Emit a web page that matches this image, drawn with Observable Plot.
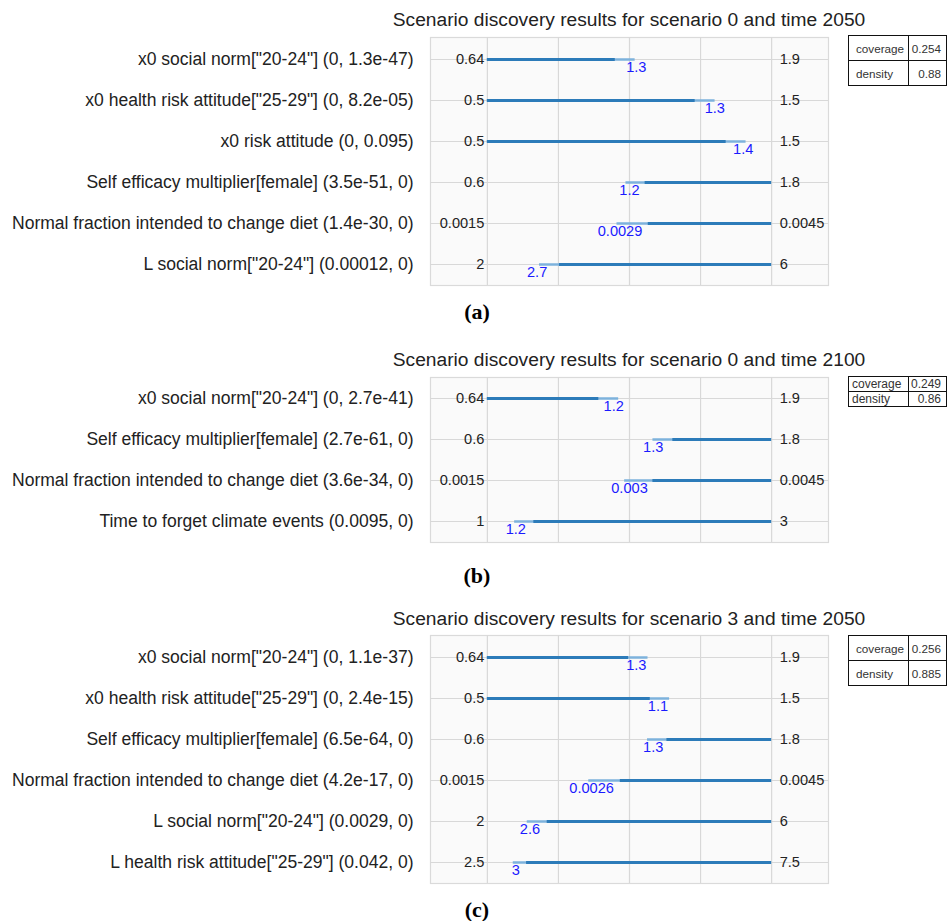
<!DOCTYPE html>
<html>
<head>
<meta charset="utf-8">
<script src="https://cdn.jsdelivr.net/npm/d3@7"></script>
<script src="https://cdn.jsdelivr.net/npm/@observablehq/plot@0.6"></script>
<style>
  html, body { margin: 0; padding: 0; background: #fff; }
  #root { position: relative; width: 947px; height: 921px; overflow: hidden; font-family: "Liberation Sans", Arial, sans-serif; color: #222; }
  .title { position: absolute; width: 600px; text-align: center; font-size: 19.2px; line-height: 1; white-space: nowrap; }
  .cap { position: absolute; width: 100px; text-align: center; font-family: "Liberation Serif", "Times New Roman", serif; font-weight: bold; font-size: 22px; line-height: 1; color: #000; }
  .svgbox { position: absolute; left: 0; }
  table.stats { position: absolute; left: 848px; border-collapse: collapse; color: #333; }
  table.stats td { border: 1px solid #111; padding: 0; white-space: nowrap; }
  table.stats td.k { text-align: left; }
  table.stats td.v { text-align: right; }
</style>
</head>
<body>
<div id="root"></div>
<script>
// ---------- data ----------
// Panel (a): scenario 0, time 2050
const aTitle = "Scenario discovery results for scenario 0 and time 2050";
const aLabels = [
  'x0 social norm["20-24"] (0, 1.3e-47)',
  'x0 health risk attitude["25-29"] (0, 8.2e-05)',
  'x0 risk attitude (0, 0.095)',
  'Self efficacy multiplier[female] (3.5e-51, 0)',
  'Normal fraction intended to change diet (1.4e-30, 0)',
  'L social norm["20-24"] (0.00012, 0)'
];
const aMin = [0.64, 0.5, 0.5, 0.6, 0.0015, 2];
const aMax = [1.9, 1.5, 1.5, 1.8, 0.0045, 6];
const aLimit = [1.3, 1.3, 1.4, 1.2, 0.0029, 2.7];      // labelled box limit
const aEdge = [1.295, 1.301, 1.41, 1.185, 0.002868, 2.734]; // box limit (end of light part)
const aInner = [1.207, 1.231, 1.34, 1.266, 0.003198, 3.015]; // light/dark transition
const aCoverage = "0.254", aDensity = "0.88";

// Panel (b): scenario 0, time 2100
const bTitle = "Scenario discovery results for scenario 0 and time 2100";
const bLabels = [
  'x0 social norm["20-24"] (0, 2.7e-41)',
  'Self efficacy multiplier[female] (2.7e-61, 0)',
  'Normal fraction intended to change diet (3.6e-34, 0)',
  'Time to forget climate events (0.0095, 0)'
];
const bMin = [0.64, 0.6, 0.0015, 1];
const bMax = [1.9, 1.8, 0.0045, 3];
const bLimit = [1.2, 1.3, 0.003, 1.2];
const bEdge = [1.222, 1.299, 0.002949, 1.192];
const bInner = [1.134, 1.383, 0.003247, 1.327];
const bCoverage = "0.249", bDensity = "0.86";

// Panel (c): scenario 3, time 2050
const cTitle = "Scenario discovery results for scenario 3 and time 2050";
const cLabels = [
  'x0 social norm["20-24"] (0, 1.1e-37)',
  'x0 health risk attitude["25-29"] (0, 2.4e-15)',
  'Self efficacy multiplier[female] (6.5e-64, 0)',
  'Normal fraction intended to change diet (4.2e-17, 0)',
  'L social norm["20-24"] (0.0029, 0)',
  'L health risk attitude["25-29"] (0.042, 0)'
];
const cMin = [0.64, 0.5, 0.6, 0.0015, 2, 2.5];
const cMax = [1.9, 1.5, 1.8, 0.0045, 6, 7.5];
const cLimit = [1.3, 1.1, 1.3, 0.0026, 2.6, 3];
const cEdge = [1.352, 1.141, 1.276, 0.00257, 2.561, 2.956];
const cInner = [1.266, 1.073, 1.358, 0.002903, 2.842, 3.19];
const cCoverage = "0.256", cDensity = "0.885";

const gridTicks = [0, 0.25, 0.5, 0.75, 1];
const captions = ["(a)", "(b)", "(c)"];

// ---------- drawing ----------
const FONT = '"Liberation Sans", Arial, sans-serif';
const DARK = "#2c7bb9";
const LIGHT = "#7db2dc";
const root = document.getElementById("root");

function buildRows(labels, mins, maxs, limits, edges, inners) {
  return labels.map((label, i) => {
    const norm = v => (v - mins[i]) / (maxs[i] - mins[i]);
    const upper = inners[i] < edges[i];
    const e = norm(edges[i]), n = norm(inners[i]);
    return {
      label, min: mins[i], max: maxs[i], limit: limits[i],
      lx: norm(limits[i]),
      lo: upper ? 0 : e, hi: upper ? e : 1,
      dlo: upper ? 0 : n, dhi: upper ? n : 1
    };
  });
}

function place(el, left, top) {
  el.style.left = left + "px";
  el.style.top = top + "px";
  root.appendChild(el);
}

function panel(cfg) {
  const rows = buildRows(cfg.labels, cfg.min, cfg.max, cfg.limit, cfg.edge, cfg.inner);
  const plotH = cfg.plotH;
  const chart = Plot.plot({
    width: 947,
    height: plotH + 20,
    marginLeft: 430,
    marginRight: 119,
    marginTop: 10,
    marginBottom: 10,
    x: {domain: [-0.2, 1.2], axis: null},
    y: {type: "point", domain: cfg.labels, padding: 0.5, axis: null},
    style: {fontFamily: FONT, color: "#222", background: "transparent", overflow: "visible"},
    marks: [
      Plot.frame({fill: "#fafafa", stroke: "#dadada", strokeWidth: 1.2}),
      Plot.gridX(gridTicks, {stroke: "#d8d8d8", strokeOpacity: 1, strokeWidth: 1.2}),
      Plot.gridY({stroke: "#d8d8d8", strokeOpacity: 1, strokeWidth: 1.2}),
      Plot.axisY({tickSize: 0, tickPadding: 17, fontSize: "17.55px", label: null, fill: "#222"}),
      Plot.ruleY(rows, {y: "label", x1: "lo", x2: "hi", stroke: LIGHT, strokeWidth: 2.5}),
      Plot.ruleY(rows, {y: "label", x1: "dlo", x2: "dhi", stroke: DARK, strokeWidth: 3}),
      Plot.text(rows, {x: () => 0, y: "label", text: d => String(d.min), textAnchor: "end", lineAnchor: "middle", dx: -3, fontSize: "14.6px", fill: "#222"}),
      Plot.text(rows, {x: () => 1, y: "label", text: d => String(d.max), textAnchor: "start", lineAnchor: "middle", dx: 8, fontSize: "14.6px", fill: "#222"}),
      Plot.text(rows, {x: "lx", y: "label", text: d => String(d.limit), textAnchor: "middle", lineAnchor: "top", dy: 2, fontSize: "14.6px", fill: "#1a1aff"})
    ]
  });
  const box = document.createElement("div");
  box.className = "svgbox";
  box.appendChild(chart);
  place(box, 0, cfg.plotTop - 10);

  const t = document.createElement("div");
  t.className = "title";
  t.textContent = cfg.title;
  place(t, 629 - 300, cfg.titleY - 10);

  const tbl = document.createElement("table");
  tbl.className = "stats";
  tbl.style.fontSize = cfg.tFont + "px";
  const mk = (k, v) => `<tr style="height:${cfg.rowH}px"><td class="k" style="padding-left:${cfg.padL}px;width:${60 - cfg.padL}px">${k}</td><td class="v" style="padding-right:${cfg.padR}px;width:${38 - cfg.padR}px">${v}</td></tr>`;
  tbl.innerHTML = mk("coverage", cfg.coverage) + mk("density", cfg.density);
  place(tbl, 848, cfg.tableTop);

  const c = document.createElement("div");
  c.className = "cap";
  c.textContent = cfg.caption;
  place(c, 477 - 50, cfg.capY - 11);
}

panel({title: aTitle, labels: aLabels, min: aMin, max: aMax, limit: aLimit, edge: aEdge, inner: aInner,
  coverage: aCoverage, density: aDensity, caption: captions[0],
  plotTop: 37, plotH: 248, titleY: 20, tableTop: 35, rowH: 25, tFont: 11.7, padL: 7, padR: 5, capY: 312});
panel({title: bTitle, labels: bLabels, min: bMin, max: bMax, limit: bLimit, edge: bEdge, inner: bInner,
  coverage: bCoverage, density: bDensity, caption: captions[1],
  plotTop: 377, plotH: 165, titleY: 360, tableTop: 376, rowH: 15, tFont: 12, padL: 3, padR: 5, capY: 576});
panel({title: cTitle, labels: cLabels, min: cMin, max: cMax, limit: cLimit, edge: cEdge, inner: cInner,
  coverage: cCoverage, density: cDensity, caption: captions[2],
  plotTop: 635, plotH: 248, titleY: 619, tableTop: 635, rowH: 25, tFont: 11.7, padL: 7, padR: 5, capY: 910});
</script>
</body>
</html>
